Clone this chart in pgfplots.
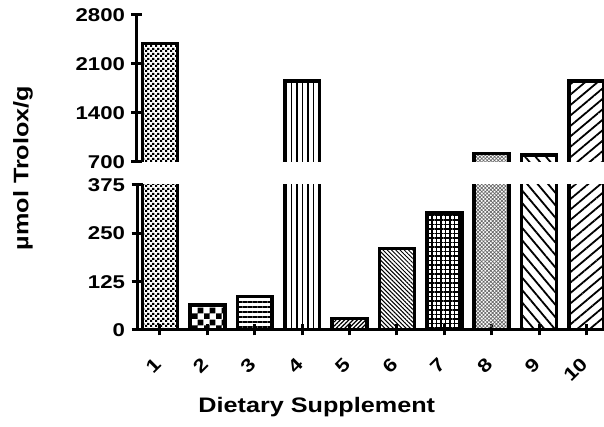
\documentclass[border=0pt]{standalone}
\usepackage{pgfplots}
\pgfplotsset{compat=1.18}
\usepackage{fontspec}
\setmainfont[FakeStretch=1.2]{Liberation Sans}
\usetikzlibrary{patterns,patterns.meta}

\pgfdeclarepatternformonly{finecheck}{\pgfqpoint{0pt}{0pt}}{\pgfqpoint{5pt}{5pt}}{\pgfqpoint{5pt}{5pt}}{%
  \pgfpathrectangle{\pgfqpoint{0pt}{0pt}}{\pgfqpoint{2.5pt}{2.5pt}}%
  \pgfpathrectangle{\pgfqpoint{2.5pt}{2.5pt}}{\pgfqpoint{2.5pt}{2.5pt}}%
  \pgfusepath{fill}}
\pgfdeclarepatternformonly{bigcheck}{\pgfqpoint{0pt}{0pt}}{\pgfqpoint{12pt}{12pt}}{\pgfqpoint{12pt}{12pt}}{%
  \pgfpathrectangle{\pgfqpoint{0pt}{0pt}}{\pgfqpoint{6pt}{6pt}}%
  \pgfpathrectangle{\pgfqpoint{6pt}{6pt}}{\pgfqpoint{6pt}{6pt}}%
  \pgfusepath{fill}}

\pgfplotsset{
  common/.style={
    scale only axis, width=467pt, xmin=0.515, xmax=10.37,
    anchor=south west,
    tick style={line width=3pt, black},
    tick align=outside, major tick length=11pt,
    tick label style={font=\bfseries\fontsize{18.5}{20}\selectfont},
    yticklabel style={xshift=-3pt},
    /pgf/number format/assume math mode=true,
    /pgf/number format/1000 sep={},
  },
  barp/.style={draw=black, line width=3.5pt, line join=miter, mark=none},
}

% each bar: half width 0.369 (x units)
\newcommand{\bars}{%
  \addplot[barp, pattern=finecheck] coordinates {(0.631,0) (0.631,2395) (1.369,2395) (1.369,0)} -- cycle;
  \addplot[barp, pattern=bigcheck] coordinates {(1.631,0) (1.631,65) (2.369,65) (2.369,0)} -- cycle;
  \addplot[barp, pattern={Lines[angle=0,distance=5pt,line width=1.4pt]}] coordinates {(2.631,0) (2.631,86) (3.369,86) (3.369,0)} -- cycle;
  \addplot[barp, pattern={Lines[angle=90,distance=5.5pt,line width=1.4pt]}] coordinates {(3.631,0) (3.631,1857) (4.369,1857) (4.369,0)} -- cycle;
  \addplot[barp, pattern={Lines[angle=45,distance=3pt,line width=1.2pt]}] coordinates {(4.631,0) (4.631,30) (5.369,30) (5.369,0)} -- cycle;
  \addplot[barp, pattern={Lines[angle=-45,distance=3pt,line width=1pt]}] coordinates {(5.631,0) (5.631,211) (6.369,211) (6.369,0)} -- cycle;
  \addplot[barp, pattern={Hatch[angle=0,distance=4.5pt,line width=1.1pt]}] coordinates {(6.631,0) (6.631,303) (7.369,303) (7.369,0)} -- cycle;
  \addplot[barp, pattern={Hatch[angle=45,distance=2.6pt,line width=0.7pt]}, pattern color=black!60] coordinates {(7.631,0) (7.631,822) (8.369,822) (8.369,0)} -- cycle;
  \addplot[barp, pattern={Lines[angle=-50,distance=8pt,line width=1.8pt]}] coordinates {(8.631,0) (8.631,800) (9.369,800) (9.369,0)} -- cycle;
  \addplot[barp, pattern={Lines[angle=40,distance=8pt,line width=1.8pt]}] coordinates {(9.631,0) (9.631,1857) (10.369,1857) (10.369,0)} -- cycle;
}

\begin{document}
\begin{tikzpicture}
\useasboundingbox (-137pt,-97pt) rectangle (467pt,330pt);
\begin{axis}[common, at={(0pt,0pt)}, height=145pt,
  ymin=0, ymax=375, ytick={0,125,250,375},
  axis x line=bottom, axis y line=left,
  axis line style={line width=3pt, -},
  x axis line style={-}, y axis line style={-},
  xtick={1,2,3,4,5,6,7,8,9,10},
  xticklabels={1,2,3,4,5,6,7,8,9,10},
  xticklabel style={yshift=-23pt, rotate=45, anchor=east},
  xlabel={Dietary Supplement},
  xlabel style={font=\bfseries\fontsize{21}{24}\selectfont, at={(axis description cs:0.385,0)}, anchor=center, yshift=-77pt},
]
\bars
\end{axis}
\begin{axis}[common, at={(0pt,168pt)}, height=147pt,
  ymin=700, ymax=2800, ytick={700,1400,2100,2800},
  axis y line=left, axis x line=none, xtick=\empty,
  axis line style={line width=3pt, -},
  y axis line style={-},
]
\bars
\end{axis}
\node[rotate=90, anchor=center, font=\bfseries\fontsize{21}{24}\selectfont] at (-114pt,162pt) {µmol Trolox/g};
\end{tikzpicture}
\end{document}
